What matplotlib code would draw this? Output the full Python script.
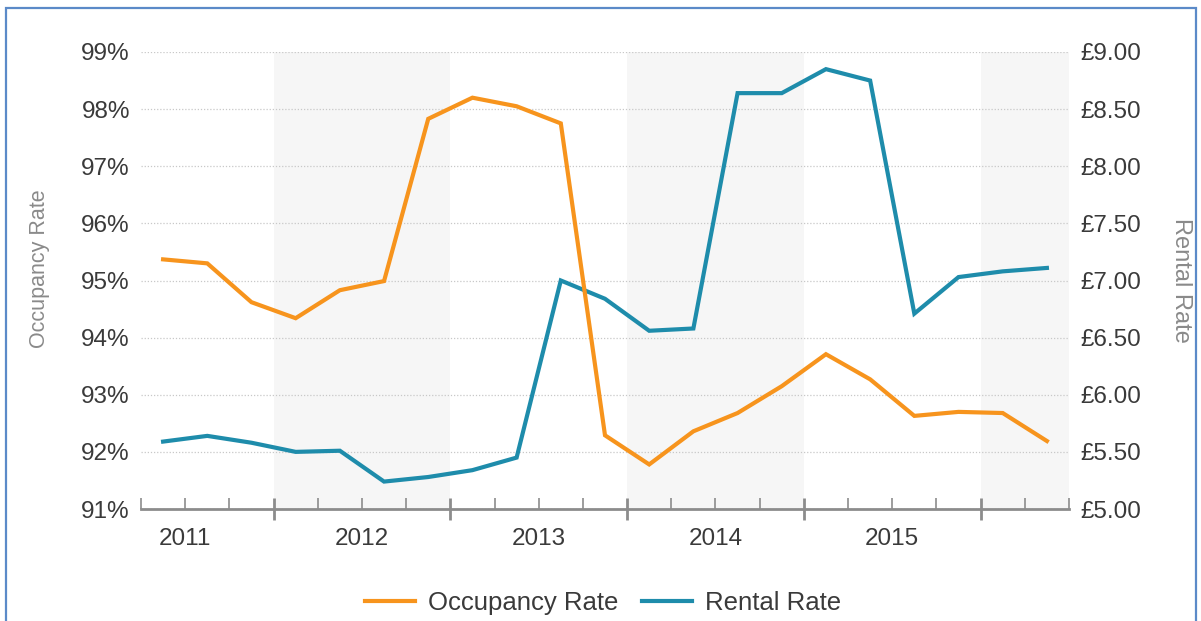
import matplotlib.pyplot as plt
from matplotlib.lines import Line2D
from matplotlib.patches import Rectangle

plt.rcParams['font.family'] = ['Liberation Sans', 'DejaVu Sans']

# quarterly values, 2011 Q2 .. 2016 Q2
occupancy = [95.37, 95.30, 94.62, 94.34, 94.83, 94.99, 97.83, 98.20, 98.05, 97.75,
             92.29, 91.78, 92.36, 92.68, 93.15, 93.71, 93.27, 92.63, 92.70, 92.68, 92.19]
rental = [5.59, 5.64, 5.58, 5.50, 5.51, 5.24, 5.28, 5.34, 5.45, 7.00,
          6.84, 6.56, 6.58, 8.64, 8.64, 8.85, 8.75, 6.71, 7.03, 7.08, 7.11]
years = ["2011", "2012", "2013", "2014", "2015"]
quarters_in_first_year = 3

ORANGE = "#F7941D"
BLUE = "#1E8CAB"
TICK_TXT = "#3a3a3a"
TITLE_TXT = "#8a8a8a"
AXIS_GREY = "#8c8c8c"

n = len(occupancy)
x = list(range(n))

fig = plt.figure(figsize=(12.01, 6.21), dpi=100)
rect = [141 / 1201, 112 / 621, 928 / 1201, 457 / 621]
ax2 = fig.add_axes(rect)               # rental, bottom layer (bands + grid)
ax = fig.add_axes(rect, sharex=ax2)    # occupancy, drawn on top
ax.patch.set_visible(False)

# year boundaries and shaded bands
first = quarters_in_first_year - 0.5
bounds = [first + 4 * i for i in range(len(years))]
for i, b in enumerate(bounds):
    if i % 2 == 0:
        ax2.axvspan(b, min(b + 4, n - 0.5), color="#F6F6F6", zorder=0, lw=0)

ax2.set_xlim(-0.5, n - 0.5)
ax2.set_ylim(5, 9)
ax.set_ylim(91, 99)

ax2.set_yticks([5 + 0.5 * i for i in range(9)])
ax2.grid(axis="y", color="#c8c8c8", linestyle=(0, (1, 1.5)), linewidth=0.9, zorder=1)
ax2.grid(axis="x", visible=False)

ax.plot(x, occupancy, color=ORANGE, lw=3, solid_joinstyle="miter", zorder=3)
ax2.plot(x, rental, color=BLUE, lw=3, solid_joinstyle="miter", zorder=3)

# y axes
ax.yaxis.tick_left()
ax.set_yticks(range(91, 100))
ax.set_yticklabels([f"{v}%" for v in range(91, 100)])
ax2.yaxis.tick_right()
ax2.set_yticklabels([f"£{5 + 0.5 * i:.2f}" for i in range(9)])
for a in (ax, ax2):
    a.tick_params(axis="y", length=0, labelsize=17.5, labelcolor=TICK_TXT, pad=8)
    for s in ("top", "left", "right"):
        a.spines[s].set_visible(False)
ax.spines["bottom"].set_visible(False)
ax2.spines["bottom"].set_color(AXIS_GREY)
ax2.spines["bottom"].set_linewidth(2)

fig.text(40 / 1201, 1 - 269 / 621, "Occupancy Rate", fontsize=15.5, color=TITLE_TXT,
         rotation=90, ha="center", va="center")
fig.text(1181 / 1201, 1 - 280 / 621, "Rental Rate", fontsize=17, color=TITLE_TXT,
         rotation=270, ha="center", va="center")

# x ticks: quarter boundaries (minor) and year boundaries (major)
qb = [i - 0.5 for i in range(n + 1)]
ax2.set_xticks(bounds)
ax2.set_xticklabels([])
ax2.set_xticks([q for q in qb if q not in bounds], minor=True)
ax2.tick_params(axis="x", which="major", direction="inout", length=16, width=2,
                color=AXIS_GREY)
ax2.tick_params(axis="x", which="minor", direction="in", length=8, width=1.2,
                color=AXIS_GREY)
ax.tick_params(axis="x", which="both", length=0, labelbottom=False)

for i, yr in enumerate(years):
    ax2.text(first - 4 + 4 * i + 2, -0.065, yr, transform=ax2.get_xaxis_transform(),
             ha="center", va="center", fontsize=17.5, color=TICK_TXT)

handles = [Line2D([], [], color=ORANGE, lw=3), Line2D([], [], color=BLUE, lw=3)]
fig.legend(handles, ["Occupancy Rate", "Rental Rate"], loc="center",
           bbox_to_anchor=(0.502, 0.029), ncol=2, frameon=False, fontsize=18.5,
           handlelength=1.95, handletextpad=0.5, columnspacing=0.9,
           labelcolor=TICK_TXT)

# outer frame
fig.patches.append(Rectangle((6 / 1201, -0.05), 1190 / 1201, 1.05 - 8 / 621,
                             transform=fig.transFigure, fill=False,
                             edgecolor="#5B8AC8", lw=1.6))

fig.savefig("out.png", dpi=100)
